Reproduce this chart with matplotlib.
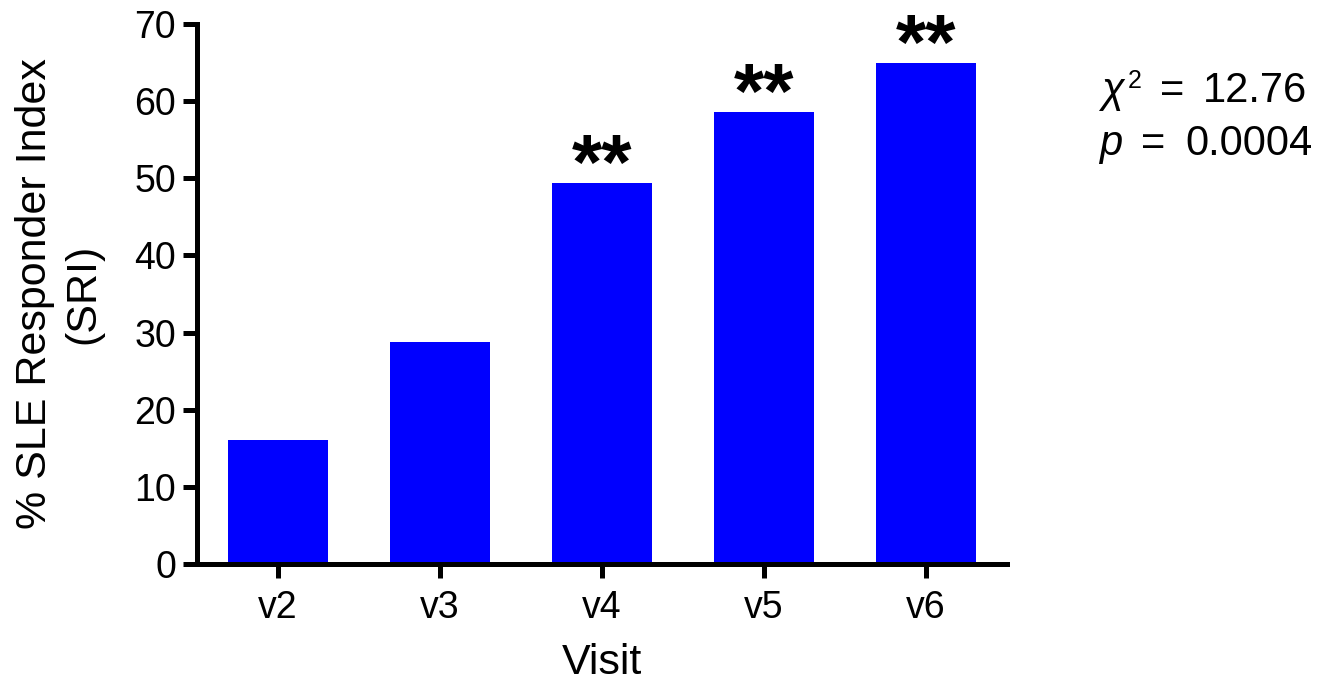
import matplotlib
matplotlib.use("Agg")
import matplotlib.pyplot as plt
from matplotlib.ticker import MultipleLocator

visits = ["v2", "v3", "v4", "v5", "v6"]
sri_pct = [16.1, 28.8, 49.4, 58.6, 64.9]
signif = ["", "", "**", "**", "**"]
chi2_text = "12.76"
p_text = "0.0004"

plt.rcParams["font.family"] = ["Liberation Sans", "DejaVu Sans"]

W, H = 1332, 685
fig = plt.figure(figsize=(W / 100, H / 100), dpi=100)
ax = fig.add_axes([197 / W, 1 - 564 / H, 810 / W, 540 / H])

x = list(range(len(visits)))
ax.bar(x, sri_pct, width=0.62, color="#0000FF", edgecolor="none", zorder=2)

for xi, val, s in zip(x, sri_pct, signif):
    if s:
        ax.annotate(s, xy=(xi, val), xytext=(0, -4), textcoords="offset points",
                    ha="center", va="baseline", fontsize=56, fontweight="bold",
                    color="black", annotation_clip=False)

ax.set_xlim(-0.5, 4.5)
ax.set_ylim(0, 70)
ax.set_xticks(x)
ax.set_xticklabels(visits)
ax.yaxis.set_major_locator(MultipleLocator(10))
ax.yaxis.set_minor_locator(MultipleLocator(1))
ax.xaxis.set_minor_locator(MultipleLocator(0.05))

for side in ("top", "right"):
    ax.spines[side].set_visible(False)
for side in ("left", "bottom"):
    ax.spines[side].set_linewidth(3.6)
    ax.spines[side].set_color("black")
    ax.spines[side].set_capstyle("projecting")

ax.tick_params(axis="y", which="major", length=10, width=3.6, labelsize=27,
               direction="out", color="black", pad=5)
ax.tick_params(axis="x", which="major", length=10, width=3.6, labelsize=27,
               direction="out", color="black", pad=9)
ax.tick_params(axis="both", which="minor", length=2.6, width=0.5,
               direction="inout", color="#8c8c8c")

ax.set_xlabel("Visit", fontsize=31, labelpad=12)
ax.set_ylabel("% SLE Responder Index\n(SRI)", fontsize=31, labelpad=22,
              linespacing=1.3)


def px_text(px, py, s, **kw):
    fig.text(px / W, 1 - py / H, s, ha="left", va="baseline", **kw)


# test statistic block on the right
px_text(1101, 102, "χ", fontsize=30, style="italic")
px_text(1128, 88, "2", fontsize=18)
px_text(1160, 102, "=", fontsize=30)
px_text(1203, 102, chi2_text, fontsize=30)
px_text(1099, 155, "p", fontsize=30, style="italic")
px_text(1141, 155, "=", fontsize=30)
px_text(1185, 155, p_text, fontsize=30)

fig.savefig("out.png", dpi=100)
